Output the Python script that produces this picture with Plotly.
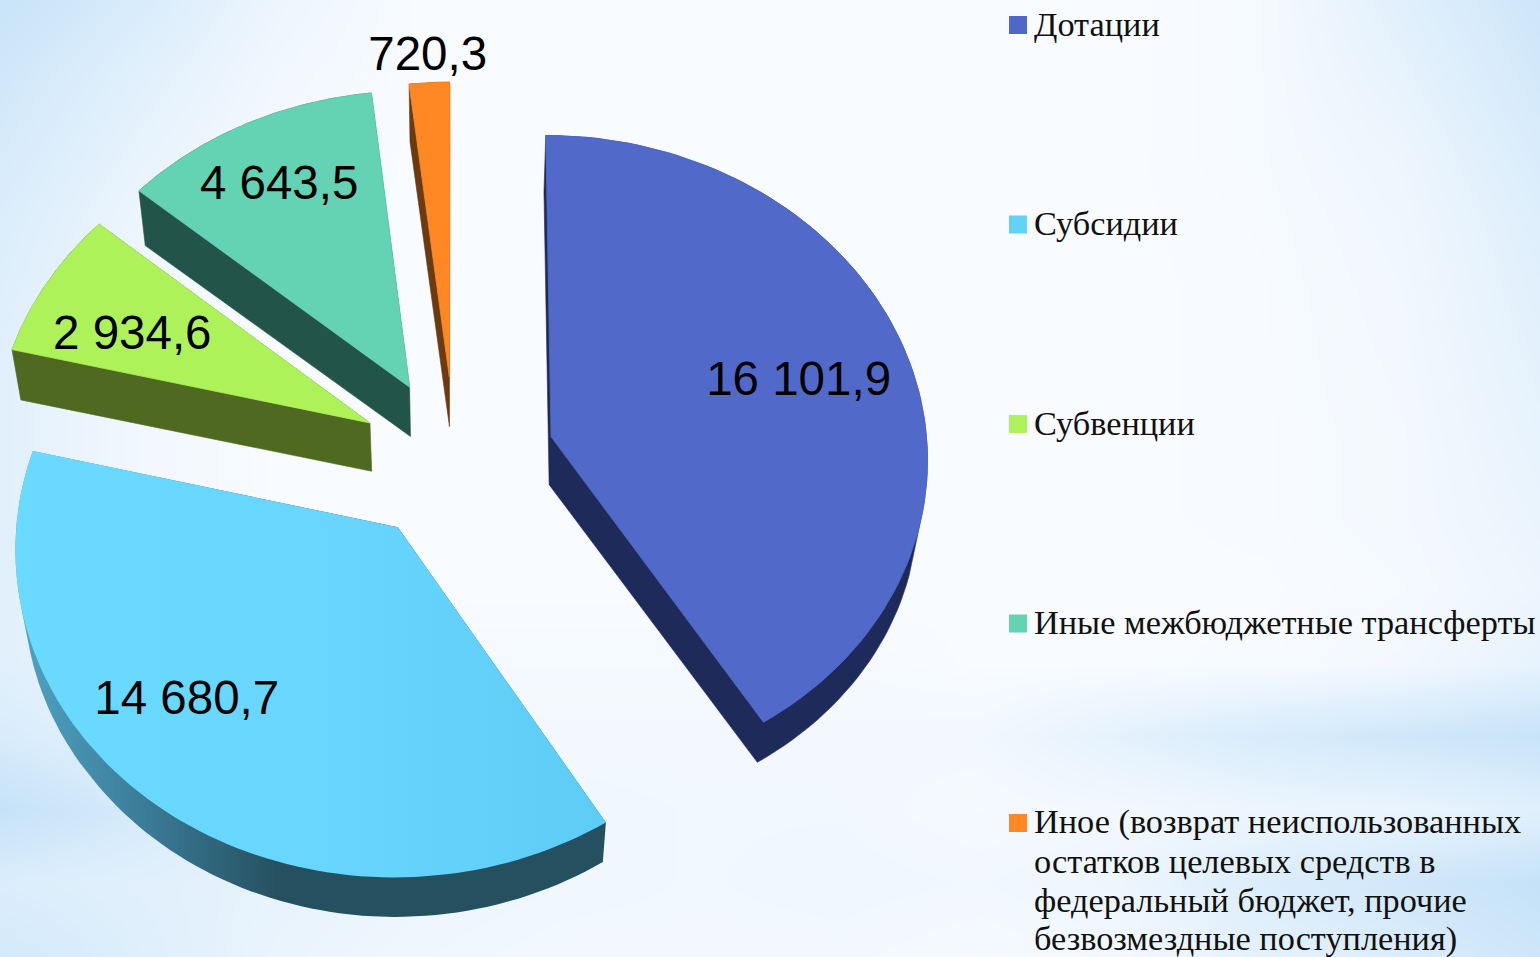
import numpy as np
import plotly.graph_objects as go

# ---- data ----
categories = [
    ["Дотации"],
    ["Субсидии"],
    ["Субвенции"],
    ["Иные межбюджетные трансферты"],
    ["Иное (возврат неиспользованных", "остатков целевых средств в",
     "федеральный бюджет, прочие", "безвозмездные поступления)"],
]
values = [16101.9, 14680.7, 2934.6, 4643.5, 720.3]
value_labels = ["16 101,9", "14 680,7", "2 934,6", "4 643,5", "720,3"]

# ---- style ----
top_colors = ["#516ac9", "#66d4fc", "#aef25a", "#63d3b4", "#ff8825"]
side_colors = ["#1e2a5a", "#25505f", "#4f6a20", "#22544a", "#6b3a0e"]
legend_colors = ["#4f67c7", "#63d2f8", "#aef25a", "#63d3b4", "#ff8825"]
explode = [0.266, 0.255, 0.255, 0.26, 0.262]
label_r = [0.69, 0.74, 0.705, 0.76, 1.09]
label_da = [1.5, 10, -4, -1, 0]
CX, CY, S, TILT, PERSP = 455, 460, 377, 0.853, 0.0585
LEGEND_TOP, LEGEND_PITCH, LINE_PITCH = 25, 199.5, 39

# Background glow levels (0 = near white, 1 = pale blue)
bg_levels = [
    [.85, .55, .20, .00, .00, .00, .00, .00, .00, .05, .40, .75],
    [.70, .40, .12, .00, .00, .00, .00, .00, .00, .05, .30, .65],
    [.60, .30, .06, .00, .00, .00, .00, .00, .00, .05, .20, .55],
    [.50, .20, .03, .00, .00, .00, .00, .00, .00, .03, .15, .45],
    [.45, .15, .00, .00, .00, .00, .00, .00, .00, .02, .12, .40],
    [.40, .12, .00, .00, .00, .00, .00, .00, .00, .02, .10, .35],
    [.40, .12, .00, .00, .00, .00, .00, .00, .00, .02, .08, .30],
    [.40, .12, .00, .00, .00, .00, .00, .00, .00, .02, .08, .25],
    [.40, .15, .05, .00, .00, .00, .00, .00, .00, .00, .05, .20],
    [.40, .20, .10, .05, .05, .05, .05, .00, .00, .02, .10, .30],
    [.55, .35, .20, .12, .10, .10, .10, .12, .35, .55, .70, .85],
    [.90, .60, .35, .20, .15, .12, .12, .05, .10, .20, .25, .40],
    [.50, .40, .30, .20, .15, .12, .15, .12, .20, .50, .70, .90],
    [.65, .45, .25, .15, .10, .10, .10, .05, .10, .35, .50, .75],
]


def project(X, Y):
    w = 1 + PERSP * Y
    return CX + S * X / w, CY - S * TILT * Y / w


def lower(x, y):
    d = np.maximum(39.5, 40 + 8 * (725 - y) / 290)
    return x + (CX - x) * 0.02, y + d


def hull(px_, py_):
    pts = sorted(set(zip(px_.tolist(), py_.tolist())))

    def half(seq):
        out = []
        for p in seq:
            while len(out) > 1 and ((out[-1][0] - out[-2][0]) * (p[1] - out[-2][1])
                                    - (out[-1][1] - out[-2][1]) * (p[0] - out[-2][0])) <= 0:
                out.pop()
            out.append(p)
        return out

    lo, up = half(pts), half(pts[::-1])
    ring = lo[:-1] + up[:-1]
    ring.append(ring[0])
    return [p[0] for p in ring], [p[1] for p in ring]


fig = go.Figure()
fig.add_trace(go.Heatmap(
    z=bg_levels, x=np.linspace(0, 1540, 12), y=np.linspace(0, 957, 14),
    zmin=0, zmax=1, zsmooth="best", showscale=False, hoverinfo="skip",
    colorscale=[[0, "#f8fbff"], [1, "#bfdff7"]]))

total = sum(values)
starts = np.cumsum([0] + values[:-1]) / total * 2 * np.pi
sweeps = np.array(values) / total * 2 * np.pi

for i in [4, 3, 2, 0, 1]:
    a0, da, e = starts[i], sweeps[i], explode[i]
    mid = a0 + da / 2
    ang = np.linspace(a0, a0 + da, 90)
    x, y = project(e * np.sin(mid) + np.sin(ang), e * np.cos(mid) + np.cos(ang))
    ox, oy = project(e * np.sin(mid), e * np.cos(mid))
    tx = np.r_[ox, x, ox]
    ty = np.r_[oy, y, oy]
    bx, by = lower(tx, ty)
    hx, hy = hull(np.r_[tx, bx], np.r_[ty, by])
    side = dict(x=hx, y=hy, mode="lines", fill="toself", showlegend=False, hoverinfo="skip",
                line=dict(width=0.6, color=side_colors[i]), fillcolor=side_colors[i])
    if i == 1:
        side["fillgradient"] = dict(type="horizontal", start=20, stop=280,
                                    colorscale=[[0, "#4fa3c4"], [0.5, "#3a7a96"], [1, "#25505f"]])
        side["line"] = dict(width=0)
    fig.add_trace(go.Scatter(**side))
    top = dict(x=tx, y=ty, mode="lines", fill="toself", showlegend=False,
               name=" ".join(categories[i]), text=value_labels[i], hoverinfo="name+text",
               line=dict(width=0.8, color=top_colors[i]), fillcolor=top_colors[i])
    if i == 1:
        top["fillgradient"] = dict(type="horizontal", start=15, stop=605,
                                   colorscale=[[0, "#6adaff"], [0.5, "#68d6fe"], [1, "#5ecdf6"]])
        top["line"] = dict(width=0)
    fig.add_trace(go.Scatter(**top))

# value labels
lx, ly = [], []
for i in range(5):
    mid = starts[i] + sweeps[i] / 2
    a = mid + np.radians(label_da[i])
    px_, py_ = project(explode[i] * np.sin(mid) + label_r[i] * np.sin(a),
                       explode[i] * np.cos(mid) + label_r[i] * np.cos(a))
    lx.append(px_)
    ly.append(py_)
fig.add_trace(go.Scatter(x=lx, y=ly, text=value_labels, mode="text", textposition="middle center",
                         showlegend=False, hoverinfo="skip",
                         textfont=dict(family="Liberation Sans", size=47.5, color="#000000")))

# legend: swatches and real text lines
annotations = []
sw_y = [LEGEND_TOP + k * LEGEND_PITCH for k in range(5)]
fig.add_trace(go.Scatter(x=[1018] * 5, y=sw_y, mode="markers", showlegend=False, hoverinfo="skip",
                         marker=dict(symbol="square", size=18, color=legend_colors, line=dict(width=0))))
for k, lines in enumerate(categories):
    for j, line in enumerate(lines):
        annotations.append(dict(x=1032, y=sw_y[k] + j * LINE_PITCH - 1.5, xref="x", yref="y",
                                text=line, showarrow=False, xanchor="left", yanchor="middle",
                                font=dict(family="Liberation Serif", size=34.3, color="#111111")))

fig.update_layout(
    width=1540, height=957, margin=dict(l=0, r=0, t=0, b=0), autosize=False,
    paper_bgcolor="#f8fbff", plot_bgcolor="#f8fbff",
    xaxis=dict(range=[0, 1540], visible=False, fixedrange=True),
    yaxis=dict(range=[957, 0], visible=False, fixedrange=True),
    showlegend=False,
    annotations=annotations,
)
fig.write_html("out.html", config={"displayModeBar": False},
               post_script="document.body.style.margin='0';document.body.style.overflow='hidden';")
